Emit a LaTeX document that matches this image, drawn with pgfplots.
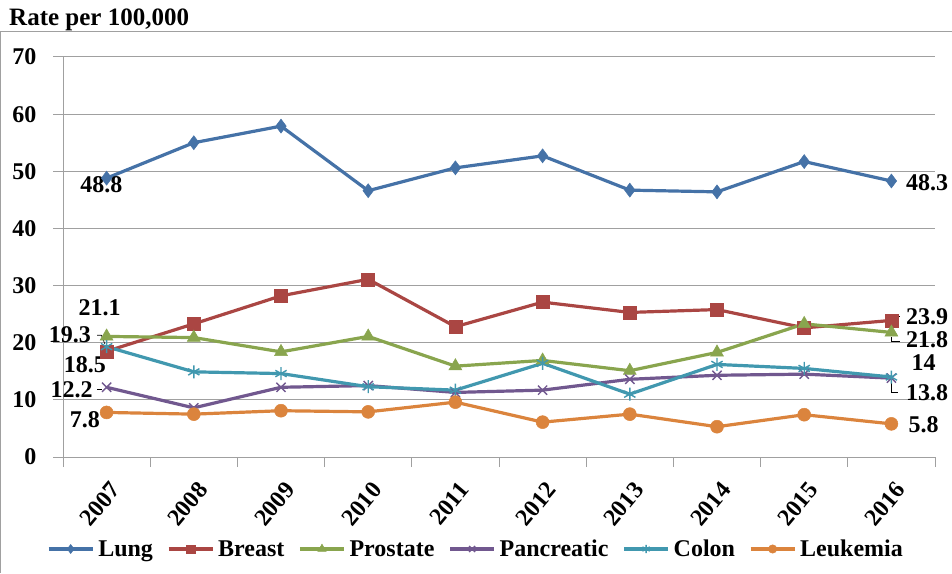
\documentclass[border=0pt]{standalone}
\usepackage{fontspec}
\setmainfont{Liberation Serif}
\usepackage{pgfplots}
\pgfplotsset{compat=1.18}
\definecolor{clung}{HTML}{4572A7}
\definecolor{cbreast}{HTML}{AA4643}
\definecolor{cprostate}{HTML}{89A54E}
\definecolor{cpanc}{HTML}{71588F}
\definecolor{ccolon}{HTML}{4198AF}
\definecolor{cleuk}{HTML}{DB843D}
\definecolor{gridgray}{HTML}{A0A0A0}
\newcommand{\lblfont}{\bfseries\fontsize{24}{28}\selectfont}
\begin{document}
\begin{tikzpicture}
\useasboundingbox (0pt,0pt) rectangle (952pt,573pt);
\draw[gridgray, line width=1pt] (0.5pt,0pt) -- (0.5pt,541pt) -- (952pt,541pt);
\node[anchor=west, inner sep=0pt, font=\bfseries\fontsize{25}{28}\selectfont] at (9pt,553pt) {Rate per 100,000};
\begin{axis}[
  at={(63pt,116pt)}, anchor=south west,
  scale only axis, width=872pt, height=400pt,
  xmin=-0.5, xmax=9.5, ymin=0, ymax=70,
  clip=false,
  axis x line*=bottom, axis y line*=left,
  axis line style={gridgray, line width=1pt, -},
  ytick={0,10,...,70},
  xtick={0,...,9},
  xticklabels={2007,2008,2009,2010,2011,2012,2013,2014,2015,2016},
  minor xtick={-0.5,0.5,...,9.5},
  tick align=outside,
  major tick length=10pt, minor tick length=10pt,
  major x tick style={draw=none},
  minor x tick style={gridgray, line width=1pt},
  ytick style={gridgray, line width=1pt},
  ymajorgrids, major grid style={gridgray, line width=1pt},
  tick label style={font=\lblfont, text=black},
  /pgf/number format/assume math mode=true,
  yticklabel style={xshift=-13pt},
  xticklabel style={rotate=50, anchor=east, yshift=-19pt, xshift=-5pt},
  legend columns=6,
  legend style={at={(0.4736,-0.23)}, anchor=center, draw=none, fill=none,
    font=\lblfont, inner sep=0pt,
    /tikz/every even column/.append style={column sep=12pt},
    /tikz/every odd column/.append style={column sep=2pt}},
  legend image code/.code={\draw[mark repeat=2, mark phase=2, #1, every mark/.append style={scale=0.65}] plot coordinates {(0pt,0pt) (22pt,0pt) (44pt,0pt)};},
]
\addplot[clung, line width=3.2pt, mark=diamond*, mark size=7pt, mark options={line width=0.5pt}] coordinates {
(0,48.8) (1,55.0) (2,57.9) (3,46.6) (4,50.6) (5,52.7) (6,46.7) (7,46.4) (8,51.7) (9,48.3)};
\addlegendentry{Lung}
\addplot[cbreast, line width=3.2pt, mark=square*, mark size=6.5pt, mark options={line width=0.5pt}] coordinates {
(0,18.5) (1,23.3) (2,28.2) (3,31.1) (4,22.8) (5,27.1) (6,25.3) (7,25.8) (8,22.6) (9,23.9)};
\addlegendentry{Breast}
\addplot[cprostate, line width=3.2pt, mark=triangle*, mark size=7.5pt, mark options={line width=0.5pt}] coordinates {
(0,21.1) (1,20.9) (2,18.4) (3,21.1) (4,15.9) (5,16.9) (6,15.1) (7,18.3) (8,23.3) (9,21.8)};
\addlegendentry{Prostate}
\addplot[cpanc, line width=3.2pt, mark=x, mark size=6.5pt, mark options={line width=1.4pt}] coordinates {
(0,12.2) (1,8.6) (2,12.2) (3,12.5) (4,11.3) (5,11.7) (6,13.6) (7,14.3) (8,14.5) (9,13.8)};
\addlegendentry{Pancreatic}
\addplot[ccolon, line width=3.2pt, mark=asterisk, mark size=6.5pt, mark options={line width=1.4pt}] coordinates {
(0,19.3) (1,14.9) (2,14.6) (3,12.3) (4,11.7) (5,16.4) (6,11.0) (7,16.2) (8,15.5) (9,14.0)};
\addlegendentry{Colon}
\addplot[cleuk, line width=3.2pt, mark=*, mark size=6.5pt, mark options={line width=0.5pt}] coordinates {
(0,7.8) (1,7.5) (2,8.1) (3,7.9) (4,9.6) (5,6.1) (6,7.5) (7,5.3) (8,7.4) (9,5.8)};
\addlegendentry{Leukemia}
% data labels
\node[font=\lblfont, inner sep=0pt] at (axis cs:-0.06,47.6) {48.8};
\node[font=\lblfont, inner sep=0pt] at (axis cs:-0.08,26.1) {21.1};
\node[font=\lblfont, inner sep=0pt] at (axis cs:-0.42,21.35) {19.3};
\node[font=\lblfont, inner sep=0pt] at (axis cs:-0.25,16.1) {18.5};
\node[font=\lblfont, inner sep=0pt] at (axis cs:-0.40,11.7) {12.2};
\node[font=\lblfont, inner sep=0pt] at (axis cs:-0.25,6.5) {7.8};
\node[font=\lblfont, inner sep=0pt] at (axis cs:9.41,47.95) {48.3};
\node[font=\lblfont, inner sep=0pt] at (axis cs:9.41,24.5) {23.9};
\node[font=\lblfont, inner sep=0pt] at (axis cs:9.41,20.5) {21.8};
\node[font=\lblfont, inner sep=0pt] at (axis cs:9.37,16.45) {14};
\node[font=\lblfont, inner sep=0pt] at (axis cs:9.41,11.2) {13.8};
\node[font=\lblfont, inner sep=0pt] at (axis cs:9.37,5.6) {5.8};
% leader lines
\draw[black, line width=0.6pt] (axis cs:-0.11,21.3) -- (axis cs:-0.06,21.3) -- (axis cs:-0.02,19.8);
\draw[black, line width=0.6pt] (axis cs:-0.11,11.9) -- (axis cs:-0.05,11.9);
\draw[black, line width=0.6pt] (axis cs:9.04,24.6) -- (axis cs:9.1,24.6);
\draw[black, line width=0.6pt] (axis cs:9.0,21.0) -- (axis cs:9.0,20.3) -- (axis cs:9.1,20.3);
\draw[black, line width=0.6pt] (axis cs:9.0,13.0) -- (axis cs:9.0,11.3) -- (axis cs:9.08,11.3);
\end{axis}
\end{tikzpicture}
\end{document}
